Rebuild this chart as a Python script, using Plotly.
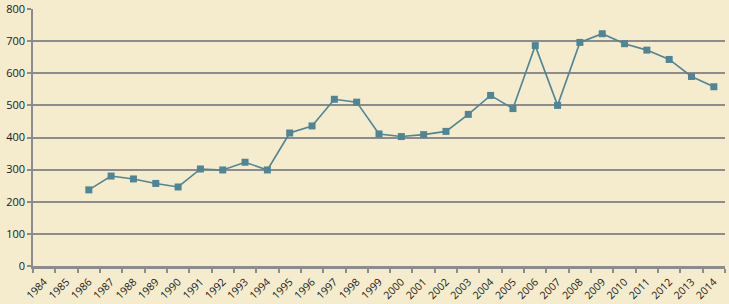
import plotly.graph_objects as go

years = [str(y) for y in range(1984, 2015)]
values = [None, None, 237, 280, 271, 257, 246, 302, 299, 323, 299, 414, 436, 519, 510,
          411, 403, 409, 419, 472, 531, 490, 686, 500, 696, 723, 692, 672, 643, 590, 558]
y_ticks = [0, 100, 200, 300, 400, 500, 600, 700, 800]

bg = "#F4ECCD"
grid = "#8C8C8C"
line_col = "#4F8595"

fig = go.Figure(go.Scatter(
    x=years, y=values, mode="lines+markers",
    line=dict(color=line_col, width=1.6),
    marker=dict(symbol="square", size=7, color=line_col),
    connectgaps=False, hoverinfo="x+y"
))

fig.update_layout(
    width=729, height=304,
    margin=dict(l=33, r=4, t=9, b=38),
    paper_bgcolor=bg, plot_bgcolor=bg,
    showlegend=False,
    font=dict(family="Open Sans, Liberation Sans, sans-serif", size=11, color="#1a1a1a"),
)
fig.update_xaxes(
    type="category", categoryorder="array", categoryarray=years,
    tickvals=years, ticktext=years,
    tickangle=-45, tickson="boundaries",
    ticks="outside", ticklen=4, tickcolor=grid, tickwidth=1.5,
    ticklabelstandoff=3,
    showline=True, linecolor=grid, linewidth=2.5,
    showgrid=False, zeroline=False,
    range=[-0.5, len(years) - 0.5],
    tickfont=dict(size=10.5),
    automargin=False,
)
fig.update_yaxes(
    range=[0, 800], tickvals=y_ticks, ticktext=[str(v) for v in y_ticks],
    ticks="outside", ticklen=4, tickcolor=grid, tickwidth=1.5,
    showline=True, linecolor=grid, linewidth=1.5,
    showgrid=True, gridcolor=grid, gridwidth=1.5,
    zeroline=False,
    tickfont=dict(size=11),
    automargin=False,
)

fig.write_html("out.html", config={"displayModeBar": False},
               post_script="document.body.style.margin='0';document.body.style.overflow='hidden';")
